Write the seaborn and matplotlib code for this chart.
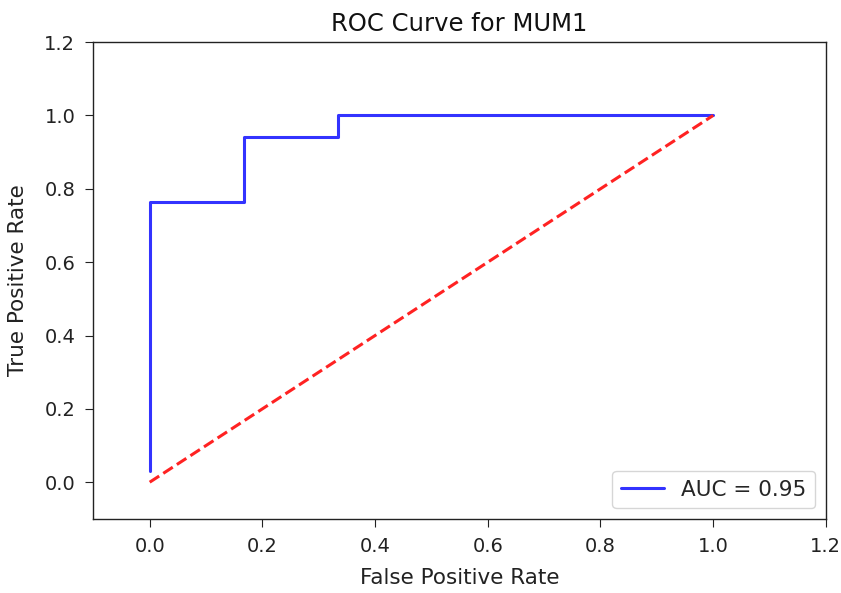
import numpy as np
import pandas as pd
import seaborn as sns
import matplotlib
matplotlib.use("Agg")
import matplotlib.pyplot as plt

# ROC points for MUM1
fpr = [0.0, 0.0, 1/6, 1/6, 2/6, 2/6, 1.0]
tpr = [1/34, 26/34, 26/34, 32/34, 32/34, 1.0, 1.0]
auc_value = 0.95
diag = [0.0, 1.0]

TICKS = [0.0, 0.2, 0.4, 0.6, 0.8, 1.0, 1.2]


def main():
  sns.set_style("ticks")
  plt.rcParams["font.family"] = ["DejaVu Sans"]

  df = pd.DataFrame({"fpr": fpr, "tpr": tpr})
  df_diag = pd.DataFrame({"x": diag, "y": diag})

  fig, ax = plt.subplots(figsize=(8.41, 5.93), dpi=100)
  fig.subplots_adjust(left=0.111, right=0.982, top=0.929, bottom=0.125)

  sns.lineplot(x="fpr", y="tpr", data=df, sort=False, estimator=None,
               color="#3333ff", linewidth=2.2, label="AUC = %0.2f" % auc_value, ax=ax)
  sns.lineplot(x="x", y="y", data=df_diag, sort=False, estimator=None,
               color="#ff2222", linewidth=2.2, linestyle="--", ax=ax)

  ax.set_xlim(-0.1, 1.2)
  ax.set_ylim(-0.1, 1.2)
  ax.set_xticks(TICKS)
  ax.set_yticks(TICKS)
  ax.tick_params(labelsize=14, colors="#222222", length=6, pad=7)
  for s in ax.spines.values():
    s.set_color("#222222")
    s.set_linewidth(1.0)

  ax.set_title("ROC Curve for MUM1", fontsize=17.5, color="#111111", pad=8)
  ax.set_xlabel("False Positive Rate", fontsize=15.5, color="#222222", labelpad=9)
  ax.set_ylabel("True Positive Rate", fontsize=15.5, color="#222222", labelpad=12)
  ax.legend(loc="lower right", fontsize=15.5, handlelength=2.0, framealpha=0.8)

  plt.savefig("out.png", dpi=100)


if __name__ == "__main__":
  main()
